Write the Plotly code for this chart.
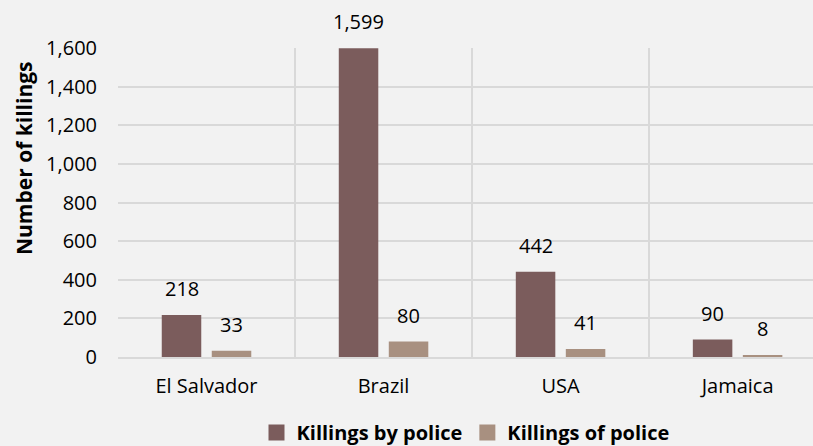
import plotly.graph_objects as go

countries = ["El Salvador", "Brazil", "USA", "Jamaica"]
killings_by_police = [218, 1599, 442, 90]
killings_of_police = [33, 80, 41, 8]
y_ticks = [0, 200, 400, 600, 800, 1000, 1200, 1400, 1600]
series_names = ["Killings by police", "Killings of police"]
y_title = "Number of killings"

FONT = "Open Sans"
FS = 20
dark = "#7B5C5C"
light = "#A89080"
BARGAP = 0.435

fig = go.Figure()
for name, vals, col in [(series_names[0], killings_by_police, dark),
                        (series_names[1], killings_of_police, light)]:
    fig.add_trace(go.Bar(
        x=countries, y=vals, name=name, showlegend=False,
        marker=dict(color=col, line=dict(width=0)),
        hoverinfo="x+y+name",
    ))
# legend entries with larger square swatches
for name, col in [(series_names[0], dark), (series_names[1], light)]:
    fig.add_trace(go.Scatter(
        x=[None], y=[None], mode="markers", name=name,
        marker=dict(symbol="square", size=16, color=col),
    ))

# data labels above each bar
half = (1 - BARGAP) / 4
annotations = []
for i, c in enumerate(countries):
    for off, vals in [(-half, killings_by_police), (half, killings_of_police)]:
        annotations.append(dict(
            x=i + off, y=vals[i], xref="x", yref="y", text=f"{vals[i]:,}",
            showarrow=False, yanchor="bottom", yshift=11,
            font=dict(family=FONT, size=FS, color="#000000"),
        ))
# y-axis title (placed like the original, slightly above plot centre)
annotations.append(dict(
    xref="paper", yref="paper", x=0, y=0.644, xshift=-94,
    xanchor="center", yanchor="middle", textangle=-90, showarrow=False,
    text=f"<b>{y_title}</b>", font=dict(family=FONT, size=21, color="#000000"),
))

fig.update_layout(
    width=813, height=446,
    margin=dict(l=118, r=0, t=48, b=89, autoexpand=False),
    paper_bgcolor="#F2F2F2", plot_bgcolor="#F2F2F2",
    barmode="group", bargap=BARGAP, bargroupgap=0.21,
    font=dict(family=FONT, size=FS, color="#000000"),
    showlegend=True,
    legend=dict(orientation="h", x=0.5, xanchor="center",
                yref="container", y=0.03, yanchor="middle",
                font=dict(family=FONT, size=FS, color="#000000", weight="bold"),
                itemwidth=30, traceorder="normal", bgcolor="rgba(0,0,0,0)"),
    annotations=annotations,
)
fig.update_xaxes(
    type="category", range=[-0.5, 3.426],
    tickson="boundaries", showgrid=True, gridcolor="#D9D9D9", gridwidth=1.5,
    showline=True, linecolor="#D9D9D9", linewidth=2,
    ticks="", tickfont=dict(family=FONT, size=FS), ticklabelstandoff=10,
)
fig.update_yaxes(
    range=[0, 1600], tickvals=y_ticks, ticktext=[f"{v:,}" for v in y_ticks],
    showgrid=True, gridcolor="#D9D9D9", gridwidth=1.5, zeroline=False,
    showline=False, ticks="", tickfont=dict(family=FONT, size=FS),
    ticklabelstandoff=20,
)

fig.write_html("out.html", config={"displayModeBar": False},
               post_script="document.body.style.margin='0px';")
